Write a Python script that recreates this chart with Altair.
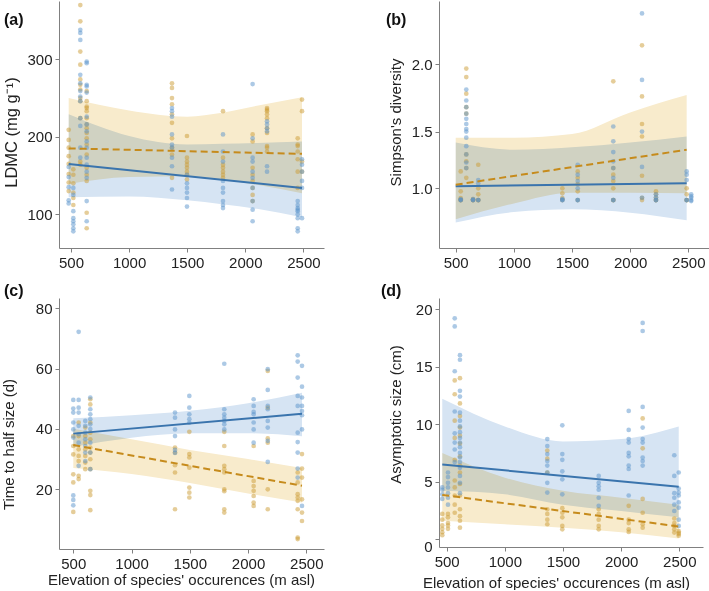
import altair as alt
import pandas as pd

FONT = "Liberation Sans"
BLUE_PT = "#5a93cc"
TAN_PT = "#cc9c34"
BLUE_LINE = "#3a74ad"
TAN_LINE = "#c68b1c"
BLUE_BAND = "#d6e4f3"
TAN_BAND = "#f8ebcc"
X_TICKS = [500, 1000, 1500, 2000, 2500]

# ---------------- Panel (a): LDMC ----------------
A_ELEV = [480, 520, 580, 635, 1369, 1498, 1808, 2063, 2187, 2451, 2488]
A_BLUE = [
    [161, 148, 135, 118, 114],
    [134, 125, 104, 95, 91, 87, 82, 78],
    [338, 334, 325, 280, 269, 259, 252, 246, 224, 214, 186, 173],
    [297, 295, 267, 265, 257, 226, 216, 207, 194, 186, 173, 164, 155, 147, 117, 91],
    [237, 233, 226, 203, 190, 186, 173, 162, 132],
    [151, 140, 134, 128, 121, 110],
    [203, 181, 168, 143, 134, 128, 117, 112, 108],
    [268, 198, 173, 168, 155, 147, 134, 117, 106, 91],
    [220, 216, 211, 207, 162, 155],
    [117, 112, 108, 106, 104, 100, 95, 82, 78],
    [171, 164, 155, 143, 134, 95],
]
A_TAN = [
    [209, 196, 186, 175, 165, 152, 141, 130],
    [158, 151, 140, 128, 121, 112],
    [370, 349, 310, 293, 274, 267, 261, 250, 246, 224, 168, 164],
    [259, 246, 239, 237, 233, 224, 216, 211, 205, 198, 190, 177, 160, 151, 143, 102, 82],
    [269, 263, 250, 242, 229, 218, 198, 186, 177, 147],
    [201, 173, 168, 164, 160, 155, 151, 145],
    [233, 173, 164, 160, 155, 151, 147],
    [203, 194, 160, 151, 143, 134, 125, 117],
    [237, 235, 233, 229, 224, 211, 205, 188, 186, 181],
    [198, 190, 188, 181, 171, 155, 134],
    [248, 233, 168, 155],
]
A_LINE_X = [480, 2488]
A_LINE_BLUE = [165, 134]
A_LINE_TAN = [185, 178]
A_BAND_X = [480, 1000, 1500, 1800, 2100, 2488]
A_BLUE_HI = [229, 201, 190, 191, 192, 194]
A_BLUE_LO = [122, 123, 118, 113, 107, 96]
A_TAN_HI = [250, 234, 226, 231, 240, 251]
A_TAN_LO = [139, 148, 149, 145, 138, 127]

# ---------------- Panel (b): Simpson's diversity ----------------
B_ELEV = [543, 591, 649, 694, 1417, 1549, 1855, 2102, 2222, 2486, 2525]
B_BLUE = [
    [0.88, 0.88, 0.89],
    [1.82, 1.74, 1.69, 1.64, 1.60, 1.56, 1.52, 1.50, 1.45, 1.38, 1.31, 1.24, 1.19],
    [0.88, 0.88, 0.89],
    [1.08, 1.05, 0.88, 0.88],
    [0.88, 0.89, 0.88],
    [1.22, 1.13, 1.07, 1.00, 0.88, 0.88],
    [1.54, 1.42, 1.33, 1.25, 1.19, 1.10, 0.88, 0.88],
    [2.34, 1.89, 1.50, 1.20, 0.905],
    [0.94, 0.88, 0.88, 0.91],
    [1.16, 1.13, 1.08, 0.88, 0.88],
    [0.94, 0.905, 0.88, 0.87, 0.92],
]
B_TAN = [
    [1.16, 0.97, 0.90, 0.88, 0.88],
    [1.97, 1.91, 1.79, 1.69, 1.64, 1.31, 1.25, 1.19, 1.10],
    [0.88, 0.89, 0.88],
    [1.22, 1.00, 0.94, 0.88, 0.88],
    [1.00, 0.95, 0.90, 0.88],
    [1.16, 1.10, 1.04, 0.97, 0.88],
    [1.88, 1.19, 1.13, 1.07, 1.00, 0.88, 0.88],
    [2.13, 1.77, 1.56, 1.46, 1.12, 0.905, 0.88],
    [0.97, 0.94, 0.905, 0.88, 0.88],
    [1.00, 0.94, 0.88, 0.88],
    [],
]
B_LINE_X = [500, 2486]
B_LINE_BLUE = [1.02, 1.05]
B_LINE_TAN = [1.035, 1.35]
B_BAND_X = [500, 1000, 1500, 2000, 2486]
B_BLUE_HI = [1.41, 1.35, 1.37, 1.41, 1.46]
B_BLUE_LO = [0.625, 0.75, 0.781, 0.743, 0.653]
B_TAN_HI = [1.45, 1.45, 1.48, 1.65, 1.78]
B_TAN_LO = [0.665, 0.845, 0.956, 0.956, 0.95]

# ---------------- Panel (c): Time to half size ----------------
C_ELEV = [500, 546, 603, 646, 1373, 1496, 1796, 2048, 2169, 2426, 2463]
C_BLUE = [
    [49.6, 46.7, 45.4, 42.1, 39.8, 37.1, 17.9, 16.4, 14.6],
    [72.2, 49.6, 47.0, 45.4, 41.0, 38.2, 35.4, 27.7],
    [42.6, 41.0, 38.7, 36.5, 34.3, 32.1, 29.3],
    [50.4, 46.5, 44.8, 43.2, 41.5, 39.9, 35.4, 32.1, 26.6],
    [45.4, 43.7, 39.8, 37.6, 33.0, 32.0],
    [50.9, 47.0, 44.8, 43.2, 42.0],
    [61.6, 46.5, 44.8, 43.7, 42.6, 41.5, 39.8],
    [49.8, 47.6, 45.6, 44.8, 42.1, 39.8, 35.4],
    [59.8, 52.9, 47.6, 46.5, 42.6, 40.4, 36.0, 29.0],
    [64.4, 62.3, 57.0, 50.9, 47.6, 38.7, 35.6, 32.1, 26.8, 23.8],
    [60.9, 54.0, 50.4, 47.6, 45.9, 44.5, 39.8, 14.4],
]
C_TAN = [
    [37.6, 34.3, 31.5, 24.9, 22.2, 12.4],
    [42.1, 37.6, 33.2, 31.0, 29.3, 24.4, 23.3],
    [40.4, 37.6, 35.4, 33.2, 31.0, 28.8, 26.6],
    [49.8, 48.1, 42.1, 38.7, 36.5, 33.8, 32.1, 29.9, 26.6, 19.4, 18.0, 13.0],
    [33.8, 32.1, 27.9, 25.5, 13.3],
    [39.0, 31.6, 30.5, 27.1, 20.5, 18.8, 17.2],
    [39.0, 34.3, 27.7, 26.6, 25.5, 19.9, 19.3, 13.3, 12.2],
    [34.3, 22.7, 21.0, 19.4, 17.7, 15.5, 14.4],
    [59.2, 47.0, 36.8, 35.4, 19.9, 13.3],
    [25.5, 22.2, 18.3, 17.2, 16.1, 13.3, 3.9, 3.4],
    [31.6, 26.8, 23.8, 16.6, 12.2, 9.4],
]
C_LINE_X = [500, 2463]
C_LINE_BLUE = [38.4, 45.0]
C_LINE_TAN = [34.6, 21.1]
C_BAND_X = [500, 1000, 1500, 2000, 2463]
C_BLUE_HI = [43.5, 44.5, 46.0, 48.5, 52.0]
C_BLUE_LO = [34.0, 37.0, 38.5, 38.5, 37.5]
C_TAN_HI = [40.0, 36.5, 33.0, 30.0, 27.0]
C_TAN_LO = [27.0, 25.0, 22.0, 18.5, 15.5]

# ---------------- Panel (d): Asymptotic size ----------------
D_ELEV = [462, 511, 569, 614, 1365, 1494, 1807, 2065, 2185, 2457, 2495]
D_BLUE = [
    [4.5, 4.3, 3.9, 3.5],
    [5.8, 5.4, 4.9, 4.5, 4.0, 3.6, 3.0],
    [19.2, 18.5, 14.6, 11.1, 9.2, 8.4, 7.8, 6.7],
    [16.0, 15.6, 12.9, 12.4, 11.0, 10.3, 9.8, 9.3, 8.8, 8.4, 8.0, 7.5, 7.1, 6.7, 6.2, 5.5, 4.9, 4.0],
    [8.7, 8.1, 7.4, 6.8, 6.4, 5.8, 4.9, 4.05],
    [9.9, 7.4, 6.9, 5.9, 5.2, 3.9],
    [5.5, 4.9, 4.6, 4.3, 3.6, 2.9],
    [11.15, 9.5, 8.7, 8.4, 7.5, 7.2, 6.4, 6.1, 3.8],
    [18.8, 18.1, 11.5, 9.7, 8.7, 8.4, 7.1, 6.8, 6.4],
    [7.3, 5.5, 4.0, 3.6, 3.0, 2.45],
    [5.8, 4.4, 4.05, 3.8, 3.2, 2.75, 1.7, 1.15],
]
D_TAN = [
    [2.2, 1.7, 1.2, 0.9, 0.6, 0.35],
    [2.2, 1.9, 1.4, 1.2, 0.9],
    [13.8, 12.6, 10.3, 8.8, 6.9, 5.1, 4.5, 3.8, 3.0, 2.3],
    [14.0, 11.8, 10.7, 9.7, 9.0, 8.3, 7.2, 6.4, 5.8, 4.8, 3.8, 2.6, 2.0, 1.6, 1.0],
    [7.7, 7.0, 5.8, 2.6, 2.2, 1.7, 1.3],
    [2.7, 2.3, 1.9, 1.15, 0.86],
    [2.6, 2.2, 1.7, 1.15, 0.86],
    [2.9, 1.7, 1.4, 0.86, 0.63],
    [10.5, 7.9, 3.5, 2.3, 1.3, 1.0],
    [1.8, 1.4, 1.15, 0.86, 0.57],
    [0.7, 0.55, 0.45, 0.3],
]
D_LINE_X = [462, 2495]
D_LINE_BLUE = [6.5, 4.55]
D_LINE_TAN = [3.85, 1.1]
D_BAND_X = [462, 1000, 1500, 2000, 2495]
D_BLUE_HI = [12.2, 9.8, 8.5, 8.7, 9.8]
D_BLUE_LO = [4.2, 3.9, 3.0, 2.45, 1.9]
D_TAN_HI = [7.5, 5.35, 4.2, 3.6, 3.0]
D_TAN_LO = [1.6, 1.3, 1.0, 0.6, 0.05]

X_TITLE = "Elevation of species' occurences (m asl)"


def points_df(elev, blue, tan):
    rows = []
    for e, vals in zip(elev, tan):
        for v in vals:
            rows.append({"x": e, "y": v, "g": "tan"})
    for e, vals in zip(elev, blue):
        for v in vals:
            rows.append({"x": e, "y": v, "g": "blue"})
    return pd.DataFrame(rows)


def make_panel(label, lab_x, lab_y, elev, blue, tan, line_x, l_blue, l_tan,
               band_x, b_hi, b_lo, t_hi, t_lo, xdom, ydom, yticks, yfmt,
               ytitle, ytx, yty, xtitle, xtx, xty, w, h, ytype="linear", pin=False,
               ytitle_size=15, zero_label_shift=0):
    xs = alt.Scale(domain=xdom, nice=False, zero=False)
    if ytype == "pow":
        ys = alt.Scale(type="pow", exponent=1.5, domain=ydom, nice=False, zero=False)
    else:
        ys = alt.Scale(domain=ydom, nice=False, zero=False)
    if xtitle:
        xaxis = alt.Axis(values=X_TICKS, format="d", title=xtitle, titleX=xtx, titleY=xty)
    else:
        xaxis = alt.Axis(values=X_TICKS, format="d", title=None)
    yargs = dict(values=yticks, format=yfmt, title=ytitle, titleX=ytx, titleY=yty,
                 titleFontSize=ytitle_size)
    if zero_label_shift:
        yargs["labelOffset"] = {"expr": "datum.value === 0 ? %d : 0" % zero_label_shift}
    yaxis = alt.Axis(**yargs)

    def X():
        return alt.X("x:Q", scale=xs, axis=xaxis)

    def Y(f):
        return alt.Y(f + ":Q", scale=ys, axis=yaxis)

    band_t = pd.DataFrame({"x": band_x, "lo": t_lo, "hi": t_hi})
    band_b = pd.DataFrame({"x": band_x, "lo": b_lo, "hi": b_hi})
    area_t = alt.Chart(band_t).mark_area(color=TAN_BAND, opacity=1, blend="multiply",
                                         interpolate="monotone").encode(
        x=X(), y=Y("lo"), y2="hi:Q")
    area_b = alt.Chart(band_b).mark_area(color=BLUE_BAND, opacity=1, blend="multiply",
                                         interpolate="monotone").encode(
        x=X(), y=Y("lo"), y2="hi:Q")
    pts = alt.Chart(points_df(elev, blue, tan)).mark_circle(size=22, opacity=0.5).encode(
        x=X(), y=Y("y"),
        color=alt.Color("g:N", scale=alt.Scale(domain=["blue", "tan"], range=[BLUE_PT, TAN_PT]),
                        legend=None))
    ln_b = alt.Chart(pd.DataFrame({"x": line_x, "y": l_blue})).mark_line(
        color=BLUE_LINE, strokeWidth=2).encode(x=X(), y=Y("y"))
    ln_t = alt.Chart(pd.DataFrame({"x": line_x, "y": l_tan})).mark_line(
        color=TAN_LINE, strokeWidth=2, strokeDash=[7, 4]).encode(x=X(), y=Y("y"))
    lab = alt.Chart(pd.DataFrame({"t": [label]})).mark_text(
        align="left", baseline="alphabetic", font=FONT, fontSize=16, fontWeight="bold",
        color="#111").encode(x=alt.value(lab_x), y=alt.value(lab_y), text="t:N")
    layers = [area_t, area_b, pts, ln_b, ln_t, lab]
    if pin:
        pin_rule = alt.Chart(pd.DataFrame({"p": [0]})).mark_rule(
            color="white", strokeWidth=1).encode(
            x=alt.value(-58), y=alt.value(0), y2=alt.value(2))
        layers.append(pin_rule)
    return alt.layer(*layers).properties(width=w, height=h)


pa = make_panel("(a)", -55, 24, A_ELEV, A_BLUE, A_TAN, A_LINE_X, A_LINE_BLUE, A_LINE_TAN,
                A_BAND_X, A_BLUE_HI, A_BLUE_LO, A_TAN_HI, A_TAN_LO,
                [396.7, 2677.3], [56.5, 375.2], [100, 200, 300], "d",
                "LDMC (mg g\u207b\u00b9)", -40, 131, None, 0, 0, 265, 247, pin=True,
                ytitle_size=16.5)
pb = make_panel("(b)", -53, 24, B_ELEV, B_BLUE, B_TAN, B_LINE_X, B_LINE_BLUE, B_LINE_TAN,
                B_BAND_X, B_BLUE_HI, B_BLUE_LO, B_TAN_HI, B_TAN_LO,
                [356.4, 2678.0], [0.2425, 2.419], [1.0, 1.5, 2.0], ".1f",
                "Simpson's diversity", -36, 121, None, 0, 0, 270, 247, ytype="pow")
pc = make_panel("(c)", -55, -2, C_ELEV, C_BLUE, C_TAN, C_LINE_X, C_LINE_BLUE, C_LINE_TAN,
                C_BAND_X, C_BLUE_HI, C_BLUE_LO, C_TAN_HI, C_TAN_LO,
                [377.3, 2651.9], [0.1, 83.42], [0, 20, 40, 60, 80], "d",
                "Time to half size (d)", -43, 146, X_TITLE, 122, 23, 265, 251)
pd_ = make_panel("(d)", -58, -2, D_ELEV, D_BLUE, D_TAN, D_LINE_X, D_LINE_BLUE, D_LINE_TAN,
                 D_BAND_X, D_BLUE_HI, D_BLUE_LO, D_TAN_HI, D_TAN_LO,
                 [433.8, 2703.8], [-0.68, 20.97], [0, 5, 10, 15, 20], "d",
                 "Asymptotic size (cm)", -36, 116, X_TITLE, 117, 28, 264, 249,
                 zero_label_shift=7)

chart = alt.concat(pa, pb, pc, pd_, columns=2, spacing={"row": 50, "column": 115},
                   bounds="flush", align="none").properties(
    padding=0, background="white"
).configure_view(strokeWidth=0).configure_axis(
    grid=False, domainColor="#808080", tickColor="#808080", domainWidth=1, tickWidth=1,
    tickSize=4, labelPadding=3, labelColor="#222222", titleColor="#222222",
    labelFont=FONT, titleFont=FONT, labelFontSize=15, titleFontSize=15,
    titleFontWeight="normal"
)

chart.save("out.html", embed_options={"renderer": "svg", "actions": False})
